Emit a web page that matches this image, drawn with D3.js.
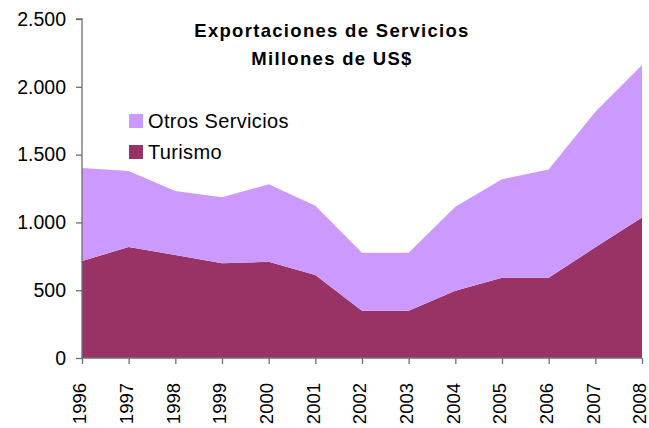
<!DOCTYPE html>
<html>
<head>
<meta charset="utf-8">
<script src="https://cdn.jsdelivr.net/npm/d3@7"></script>
<style>
  body { margin: 0; background: #fff; }
  svg { font-family: "Liberation Sans", Arial, sans-serif; }
  .axis path, .axis line { stroke: #6e6e6e; stroke-width: 1.3; }
  .axis text { fill: #000; }
</style>
</head>
<body>
<svg width="649" height="428"></svg>
<script>
// datos (millones de US$)
var years = [1996, 1997, 1998, 1999, 2000, 2001, 2002, 2003, 2004, 2005, 2006, 2007, 2008];
var turismo = [715, 818, 760, 698, 710, 612, 349, 349, 496, 592, 592, 816, 1037];
var otros = [686, 561, 471, 487, 571, 511, 427, 427, 620, 726, 799, 1000, 1124];
var yTicks = [0, 500, 1000, 1500, 2000, 2500];
var seriesNames = ["Turismo", "Otros Servicios"];
var colors = {"Turismo": "#993366", "Otros Servicios": "#CC99FF"};

var svg = d3.select("svg"),
    margin = {top: 19, right: 7, bottom: 70, left: 82},
    width = +svg.attr("width") - margin.left - margin.right,
    height = +svg.attr("height") - margin.top - margin.bottom;

var x = d3.scaleLinear().domain([1996, 2008]).range([0, width]),
    y = d3.scaleLinear().domain([0, 2500]).range([height, 0]);

var table = years.map(function(yr, i) {
    return {year: yr, "Turismo": turismo[i], "Otros Servicios": otros[i]};
});

var stack = d3.stack().keys(seriesNames);
var layers = stack(table);

var area = d3.area()
    .x(function(d) { return x(d.data.year); })
    .y0(function(d) { return y(d[0]); })
    .y1(function(d) { return y(d[1]); });

var g = svg.append("g")
    .attr("transform", "translate(" + margin.left + "," + margin.top + ")");

g.selectAll(".layer")
  .data(layers)
  .enter().append("path")
    .attr("class", "layer")
    .attr("fill", function(d) { return colors[d.key]; })
    .attr("d", area);

// eje y
var yAxis = d3.axisLeft(y)
    .tickValues(yTicks)
    .tickSize(6)
    .tickPadding(10)
    .tickFormat(function(d) { return d3.format(",")(d).replace(/,/g, "."); });

g.append("g")
    .attr("class", "axis axis--y")
    .call(yAxis)
    .call(function(s) { s.select(".domain").attr("d", "M0," + height + "V0H-6"); })
    .selectAll("text")
      .style("font-size", "19.5px");

// eje x
var xAxis = d3.axisBottom(x)
    .tickValues(years)
    .tickSize(6)
    .tickFormat(d3.format("d"));

g.append("g")
    .attr("class", "axis axis--x")
    .attr("transform", "translate(0," + height + ")")
    .call(xAxis)
    .call(function(s) { s.select(".domain").attr("d", "M0,0H" + width); })
    .selectAll("text")
      .style("font-size", "18.5px")
      .attr("text-anchor", "end")
      .attr("transform", "rotate(-90)")
      .attr("x", -25)
      .attr("y", 0)
      .attr("dy", "0.2em");

// título
var title = svg.append("text")
    .attr("x", 332)
    .attr("y", 37)
    .attr("text-anchor", "middle")
    .style("font-weight", "bold")
    .style("font-size", "18.5px")
    .style("letter-spacing", "1.3px");
title.append("tspan").attr("x", 332).text("Exportaciones de Servicios");
title.append("tspan").attr("x", 332).attr("dy", 28).text("Millones de US$");

// leyenda
var legendItems = ["Otros Servicios", "Turismo"];
var legend = svg.append("g")
    .attr("transform", "translate(129,114)");

var item = legend.selectAll(".item")
  .data(legendItems)
  .enter().append("g")
    .attr("class", "item")
    .attr("transform", function(d, i) { return "translate(0," + (i * 31) + ")"; });

item.append("rect")
    .attr("width", 14)
    .attr("height", 14)
    .attr("fill", function(d) { return colors[d]; });

item.append("text")
    .attr("x", 19)
    .attr("y", 13.5)
    .style("font-size", "20px")
    .style("letter-spacing", "0.35px")
    .text(function(d) { return d; });
</script>
</body>
</html>
